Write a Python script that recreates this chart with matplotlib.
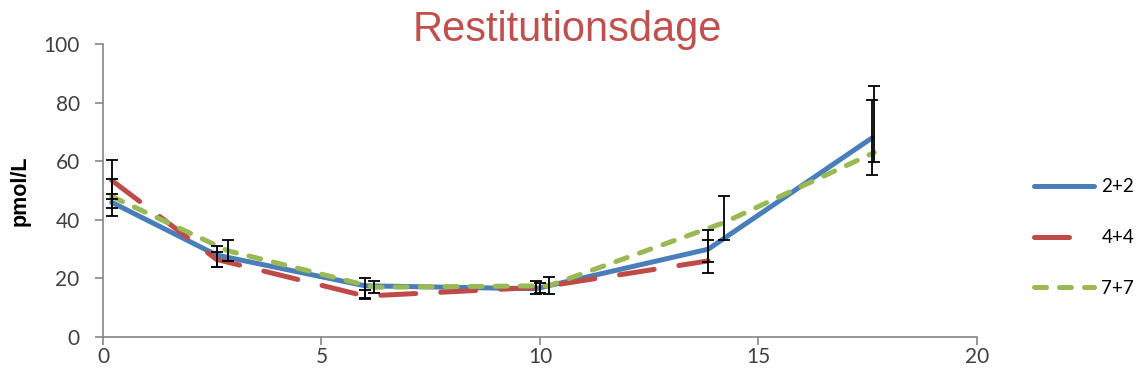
import matplotlib
matplotlib.use("Agg")
import matplotlib.pyplot as plt
import numpy as np

# Series: time (x), mean (y) and lower/upper error limits
labels = ["2+2", "4+4", "7+7"]

x_22 = [0.2, 2.6, 6.0, 9.9, 13.85, 17.6]
y_22 = [46.0, 28.0, 17.5, 16.5, 30.0, 68.0]
lo_22 = [41.3, 24.0, 13.3, 14.7, 25.6, 55.3]
hi_22 = [49.0, 31.0, 20.0, 19.0, 36.5, 80.9]

x_44 = [0.2, 2.6, 6.0, 10.0, 13.85]
y_44 = [53.5, 26.5, 14.0, 17.0, 26.0]
lo_44 = [47.0, 24.0, 13.0, 15.0, 22.0]
hi_44 = [60.4, 29.0, 16.0, 18.5, 33.0]

x_77 = [0.2, 2.85, 6.2, 10.2, 14.2, 17.65]
y_77 = [48.0, 29.5, 17.0, 17.5, 39.0, 63.0]
lo_77 = [43.9, 26.0, 15.0, 14.7, 33.0, 59.7]
hi_77 = [54.0, 33.0, 19.0, 20.5, 48.0, 85.7]

x_ticks = [0, 5, 10, 15, 20]
y_ticks = [0, 20, 40, 60, 80, 100]

colors = ["#4A7EBB", "#BE4B48", "#98B954"]
axis_grey = "#868686"
text_grey = "#404040"

fig = plt.figure(figsize=(11.44, 3.87), dpi=100)
ax = fig.add_axes([0.090, 0.129, 0.764, 0.757])

series = [
    (x_22, y_22, lo_22, hi_22),
    (x_44, y_44, lo_44, hi_44),
    (x_77, y_77, lo_77, hi_77),
]
styles = [
    dict(linestyle="-"),
    dict(linestyle=(0, (7.0, 5.0)), dash_capstyle="round"),
    dict(linestyle=(0, (2.4, 2.6)), dash_capstyle="round"),
]

handles = []
for (xs, ys, lo, hi), col, st, lab in zip(series, colors, styles, labels):
    line, = ax.plot(xs, ys, color=col, lw=3.6, label=lab, zorder=2,
                    solid_capstyle="round", **st)
    handles.append(line)

for xs, ys, lo, hi in series:
    ys_a = np.array(ys)
    yerr = np.vstack([ys_a - np.array(lo), np.array(hi) - ys_a])
    ax.errorbar(xs, ys, yerr=yerr, fmt="none", ecolor="black",
                elinewidth=1.3, capsize=4.3, capthick=1.3, zorder=4)

ax.set_xlim(0, 20)
ax.set_ylim(0, 100)
ax.set_xticks(x_ticks)
ax.set_yticks(y_ticks)

for side in ("top", "right"):
    ax.spines[side].set_visible(False)
for side in ("left", "bottom"):
    ax.spines[side].set_color(axis_grey)
    ax.spines[side].set_linewidth(1.2)

ax.tick_params(axis="both", direction="out", length=5.8, width=1.2,
               color=axis_grey, labelcolor=text_grey, labelsize=15)
ax.tick_params(axis="y", pad=11)
ax.tick_params(axis="x", pad=1)
for lbl in ax.get_xticklabels() + ax.get_yticklabels():
    lbl.set_family("Lato")

ax.set_ylabel("pmol/L", fontsize=15.5, fontweight="bold", family="Liberation Sans",
              color="black")
ax.yaxis.set_label_coords(-0.083, 0.5)

fig.text(0.496, 0.922, "Restitutionsdage", ha="center", va="center",
         fontsize=30, color="#C0504D", family="Liberation Sans")

leg = fig.legend(handles=handles, labels=labels, loc="center left",
                 bbox_to_anchor=(0.889, 0.386), frameon=False,
                 prop={"family": "Lato", "size": 13.5}, handlelength=3.2,
                 handletextpad=0.4, labelspacing=1.8)
for t in leg.get_texts():
    t.set_color("black")

fig.savefig("out.png", dpi=100)
